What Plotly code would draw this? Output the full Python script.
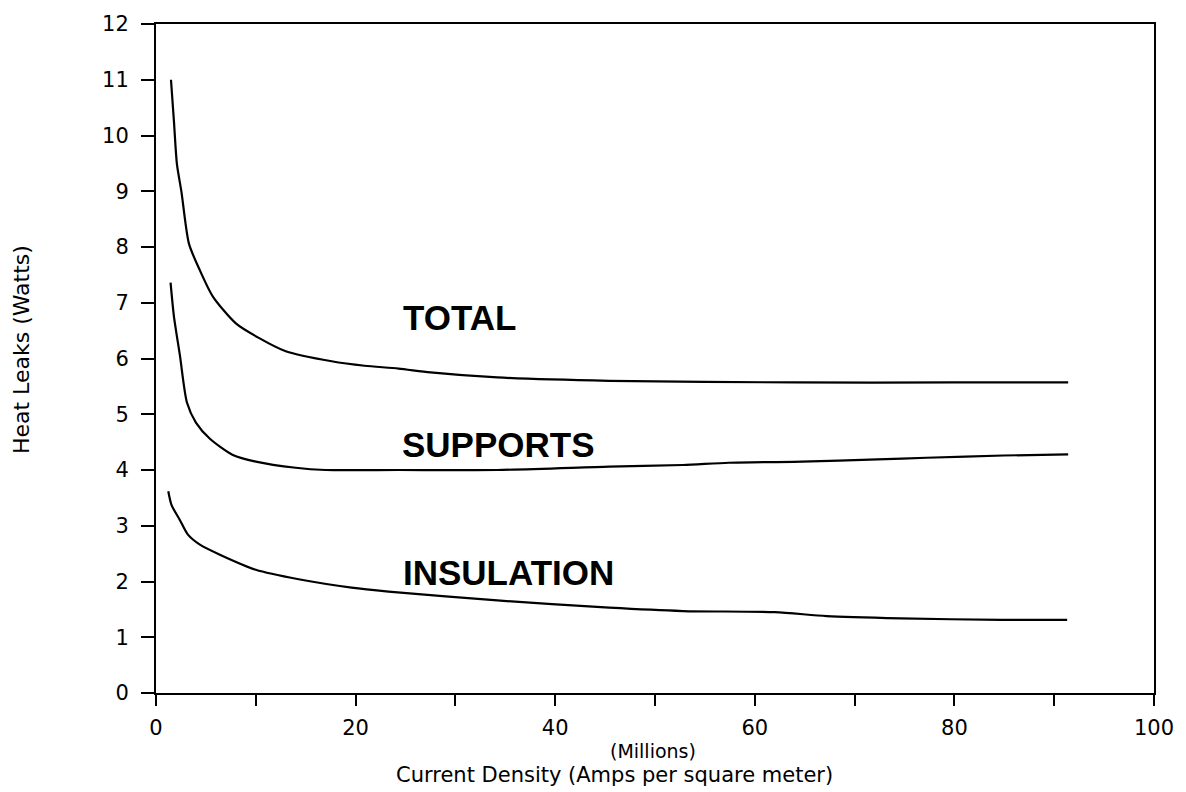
import plotly.graph_objects as go

# ---- data ----
total_x = [1.5, 1.8, 2.1, 2.55, 3.3, 4.4, 5.7, 8.0, 10.3, 13.0, 17.6, 20.9, 24.3, 27.5, 34.2, 45.4, 64.0, 80.0, 91.4]
total_y = [11.0, 10.25, 9.48, 8.99, 8.06, 7.58, 7.11, 6.63, 6.37, 6.13, 5.95, 5.87, 5.82, 5.75, 5.66, 5.60, 5.57, 5.57, 5.57]

supports_x = [1.46, 1.8, 2.4, 3.1, 4.0, 5.4, 7.7, 10.0, 14.0, 17.0, 24.3, 34.2, 45.4, 52.8, 57.4, 64.7, 72.3, 77.2, 84.9, 91.4]
supports_y = [7.36, 6.75, 6.05, 5.21, 4.85, 4.56, 4.27, 4.15, 4.04, 4.0, 4.0, 4.0, 4.06, 4.09, 4.13, 4.15, 4.19, 4.22, 4.26, 4.28]

insulation_x = [1.23, 1.56, 2.4, 3.2, 4.4, 6.4, 10.0, 14.3, 19.6, 23.3, 34.2, 45.4, 52.8, 62.0, 67.2, 74.6, 84.7, 91.3]
insulation_y = [3.62, 3.37, 3.10, 2.84, 2.66, 2.48, 2.21, 2.04, 1.89, 1.82, 1.66, 1.53, 1.47, 1.45, 1.38, 1.34, 1.31, 1.31]

x_tickvals = [0, 10, 20, 30, 40, 50, 60, 70, 80, 90, 100]
x_ticktext = ["0", "", "20", "", "40", "", "60", "", "80", "", "100"]
y_tickvals = list(range(0, 13))

series_labels = ["TOTAL", "SUPPORTS", "INSULATION"]
label_x = [24.55, 24.4, 24.5]
label_y = [6.74, 4.46, 2.17]

fig = go.Figure()
for xs, ys in [(total_x, total_y), (supports_x, supports_y), (insulation_x, insulation_y)]:
    fig.add_trace(go.Scatter(x=xs, y=ys, mode="lines",
                             line=dict(color="black", width=2.2, shape="spline", smoothing=0.7),
                             showlegend=False, hoverinfo="skip"))

for txt, lx, ly in zip(series_labels, label_x, label_y):
    fig.add_annotation(x=lx, y=ly, xref="x", yref="y", text=txt, showarrow=False,
                       xanchor="left", yanchor="middle",
                       font=dict(family="Liberation Sans, Arial", size=35, color="black", weight="bold"))

fig.add_annotation(x=-0.134, y=0.513, xref="paper", yref="paper", text="Heat Leaks (Watts)",
                   textangle=-90, showarrow=False, xanchor="center", yanchor="middle",
                   font=dict(family="DejaVu Sans", size=22, color="black"))
fig.add_annotation(x=0.498, y=-0.0862, xref="paper", yref="paper", text="(Millions)",
                   showarrow=False, xanchor="center", yanchor="middle", borderpad=0,
                   font=dict(family="DejaVu Sans", size=19, color="black"))
fig.add_annotation(x=0.459, y=-0.1231, xref="paper", yref="paper",
                   text="Current Density (Amps per square meter)",
                   showarrow=False, xanchor="center", yanchor="middle", borderpad=0,
                   font=dict(family="DejaVu Sans", size=21, color="black"))

tick_font = dict(family="DejaVu Sans", size=21, color="black")
fig.update_xaxes(range=[0, 100], tickmode="array", tickvals=x_tickvals, ticktext=x_ticktext,
                 ticks="outside", ticklen=11, tickwidth=2, tickcolor="black",
                 showline=True, linecolor="black", linewidth=2, mirror=True,
                 showgrid=False, zeroline=False, tickfont=tick_font, ticklabelstandoff=4)
fig.update_yaxes(range=[0, 12], tickmode="array", tickvals=y_tickvals,
                 ticks="outside", ticklen=13, tickwidth=2, tickcolor="black",
                 showline=True, linecolor="black", linewidth=2, mirror=True,
                 showgrid=False, zeroline=False, tickfont=tick_font, ticklabelstandoff=8)

fig.update_layout(width=1186, height=792, plot_bgcolor="white", paper_bgcolor="white",
                  margin=dict(l=156, r=24, t=19, b=99))

fig.write_html("out.html")
